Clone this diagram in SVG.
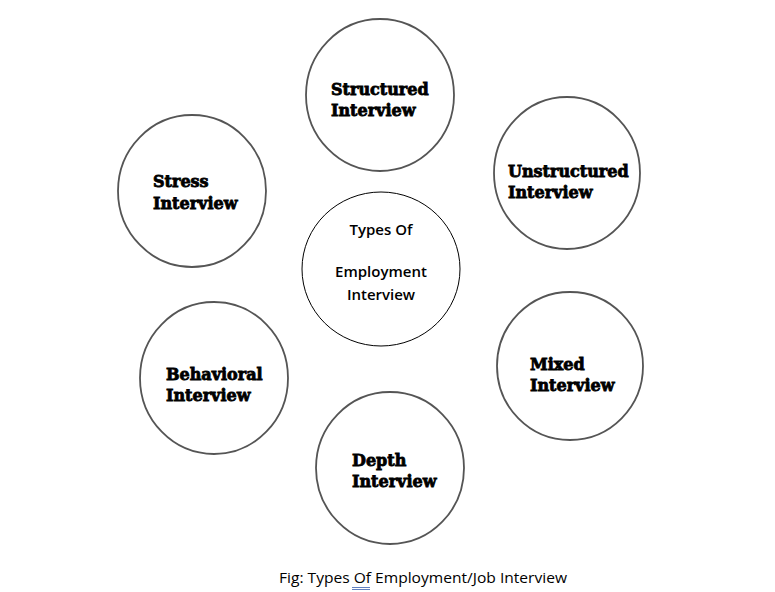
<svg xmlns="http://www.w3.org/2000/svg" width="775" height="592" viewBox="0 0 775 592">
<style>
.c{fill:#fff;stroke:#555;stroke-width:1.8}
.cc{fill:#fff;stroke:#000;stroke-width:1}
.t{font-family:"DejaVu Serif","Liberation Serif",serif;font-weight:bold;font-size:16px;fill:#000;stroke:#000;stroke-width:0.8}
.m{font-family:"Open Sans","Liberation Sans",sans-serif;font-size:15px;font-weight:600;fill:#000;text-anchor:middle}
.cap{font-family:"Open Sans","Liberation Sans",sans-serif;font-size:14.5px;fill:#000}
</style>
<rect width="775" height="592" fill="#fff"/>
<g id="connectors"></g>
<g id="structured">
<ellipse class="c" cx="380" cy="95" rx="74" ry="76"/>
<text class="t" x="331" y="95">Structured</text>
<text class="t" x="331" y="116">Interview</text>
</g>
<g id="unstructured">
<ellipse class="c" cx="567" cy="173" rx="73" ry="76"/>
<text class="t" x="508" y="177">Unstructured</text>
<text class="t" x="508" y="198">Interview</text>
</g>
<g id="stress">
<ellipse class="c" cx="192" cy="191" rx="74" ry="76"/>
<text class="t" x="153" y="187">Stress</text>
<text class="t" x="153" y="209">Interview</text>
</g>
<g id="center">
<ellipse class="cc" cx="381" cy="269" rx="79" ry="77"/>
<text class="m" x="381" y="235">Types Of</text>
<text class="m" x="381" y="277">Employment</text>
<text class="m" x="381" y="300">Interview</text>
</g>
<g id="behavioral">
<ellipse class="c" cx="214" cy="378" rx="74" ry="76"/>
<text class="t" x="166" y="380">Behavioral</text>
<text class="t" x="166" y="401">Interview</text>
</g>
<g id="mixed">
<ellipse class="c" cx="570" cy="366" rx="73" ry="74"/>
<text class="t" x="530" y="370">Mixed</text>
<text class="t" x="530" y="391">Interview</text>
</g>
<g id="depth">
<ellipse class="c" cx="390" cy="468" rx="74" ry="76"/>
<text class="t" x="352" y="466">Depth</text>
<text class="t" x="352" y="487">Interview</text>
</g>
<g id="caption">
<text class="cap" x="279" y="583" textLength="288" lengthAdjust="spacingAndGlyphs">Fig: Types Of Employment/Job Interview</text>
<line x1="352" y1="587.5" x2="370" y2="587.5" stroke="#3a5fb0" stroke-width="0.8"/>
<line x1="352" y1="589.5" x2="370" y2="589.5" stroke="#3a5fb0" stroke-width="0.8"/>
</g>
</svg>
